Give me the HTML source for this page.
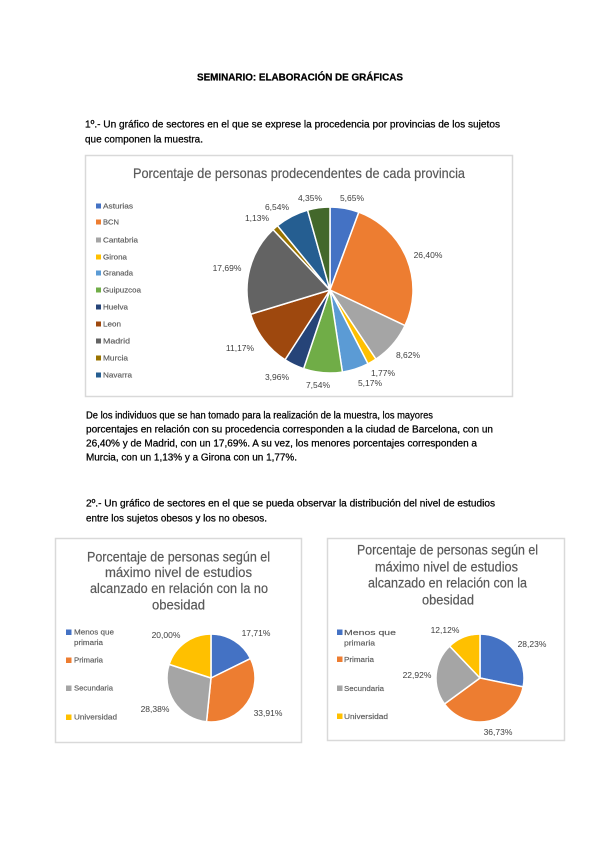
<!DOCTYPE html>
<html><head><meta charset="utf-8"><style>
html,body{margin:0;padding:0;background:#fff;}
svg{display:block;}
text{font-family:"Liberation Sans",sans-serif;}
.b{font-size:10px;fill:#000;stroke:#000;stroke-width:0.25px;}
.t{fill:#595959;stroke:#595959;stroke-width:0.2px;}
.lg{font-size:7.5px;fill:#595959;stroke:#595959;stroke-width:0.15px;}
.lb{font-size:8.5px;fill:#404040;text-anchor:middle;}
</style></head><body>
<svg width="600" height="848" viewBox="0 0 600 848" xmlns="http://www.w3.org/2000/svg">
<rect width="600" height="848" fill="#fff"/>
<!-- header text -->
<text x="197" y="80.5" class="b" font-weight="bold" textLength="206" lengthAdjust="spacingAndGlyphs">SEMINARIO: ELABORACIÓN DE GRÁFICAS</text>
<text x="85" y="127.5" class="b" textLength="415" lengthAdjust="spacingAndGlyphs">1º.- Un gráfico de sectores en el que se exprese la procedencia por provincias de los sujetos</text>
<text x="85" y="142.5" class="b" textLength="118" lengthAdjust="spacingAndGlyphs">que componen la muestra.</text>

<!-- chart 1 -->
<rect x="85.5" y="155.5" width="427" height="241" fill="#fff" stroke="#d9d9d9" stroke-width="1.5"/>
<text x="133" y="178" class="t" font-size="14" textLength="332" lengthAdjust="spacingAndGlyphs">Porcentaje de personas prodecendentes de cada provincia</text>
<g stroke="#fff" stroke-width="1.5" stroke-linejoin="round">
<path d="M330,290 L330,207 A83,83 0 0 1 358.85,212.17 Z" fill="#4472C4"/>
<path d="M330,290 L358.85,212.17 A83,83 0 0 1 404.99,325.57 Z" fill="#ED7D31"/>
<path d="M330,290 L404.99,325.57 A83,83 0 0 1 375.92,359.14 Z" fill="#A5A5A5"/>
<path d="M330,290 L375.92,359.14 A83,83 0 0 1 367.96,363.81 Z" fill="#FFC000"/>
<path d="M330,290 L367.96,363.81 A83,83 0 0 1 342.41,372.07 Z" fill="#5B9BD5"/>
<path d="M330,290 L342.41,372.07 A83,83 0 0 1 303.61,368.69 Z" fill="#70AD47"/>
<path d="M330,290 L303.61,368.69 A83,83 0 0 1 285.04,359.77 Z" fill="#264478"/>
<path d="M330,290 L285.04,359.77 A83,83 0 0 1 250.62,314.25 Z" fill="#9E480E"/>
<path d="M330,290 L250.62,314.25 A83,83 0 0 1 273.07,229.60 Z" fill="#636363"/>
<path d="M330,290 L273.07,229.60 A83,83 0 0 1 277.50,225.71 Z" fill="#997300"/>
<path d="M330,290 L277.50,225.71 A83,83 0 0 1 307.54,210.10 Z" fill="#255E91"/>
<path d="M330,290 L307.54,210.10 A83,83 0 0 1 330,207 Z" fill="#43682B"/>
</g>
<g class="lb">
<text x="352" y="201">5,65%</text>
<text x="310" y="201">4,35%</text>
<text x="277" y="210">6,54%</text>
<text x="257" y="221">1,13%</text>
<text x="227" y="271">17,69%</text>
<text x="428" y="258">26,40%</text>
<text x="408" y="358">8,62%</text>
<text x="383" y="376">1,77%</text>
<text x="370" y="386">5,17%</text>
<text x="318" y="388">7,54%</text>
<text x="277" y="380">3,96%</text>
<text x="240" y="351">11,17%</text>
</g>
<g>
<rect x="96" y="203.5" width="5" height="5" fill="#4472C4"/>
<rect x="96" y="219.5" width="5" height="5" fill="#ED7D31"/>
<rect x="96" y="237.5" width="5" height="5" fill="#A5A5A5"/>
<rect x="96" y="254.5" width="5" height="5" fill="#FFC000"/>
<rect x="96" y="270.5" width="5" height="5" fill="#5B9BD5"/>
<rect x="96" y="287.5" width="5" height="5" fill="#70AD47"/>
<rect x="96" y="304.5" width="5" height="5" fill="#264478"/>
<rect x="96" y="321.5" width="5" height="5" fill="#9E480E"/>
<rect x="96" y="338.5" width="5" height="5" fill="#636363"/>
<rect x="96" y="355.5" width="5" height="5" fill="#997300"/>
<rect x="96" y="372.5" width="5" height="5" fill="#255E91"/>
</g>
<g class="lg">
<text x="103" y="208.5" textLength="30" lengthAdjust="spacingAndGlyphs">Asturias</text>
<text x="103" y="224.5" textLength="16" lengthAdjust="spacingAndGlyphs">BCN</text>
<text x="103" y="242.5" textLength="35" lengthAdjust="spacingAndGlyphs">Cantabria</text>
<text x="103" y="259.5" textLength="24" lengthAdjust="spacingAndGlyphs">Girona</text>
<text x="103" y="275.5" textLength="30" lengthAdjust="spacingAndGlyphs">Granada</text>
<text x="103" y="292.5" textLength="38" lengthAdjust="spacingAndGlyphs">Guipuzcoa</text>
<text x="103" y="309.5" textLength="25" lengthAdjust="spacingAndGlyphs">Huelva</text>
<text x="103" y="326.5" textLength="18" lengthAdjust="spacingAndGlyphs">Leon</text>
<text x="103" y="343.5" textLength="27" lengthAdjust="spacingAndGlyphs">Madrid</text>
<text x="103" y="360.5" textLength="25" lengthAdjust="spacingAndGlyphs">Murcia</text>
<text x="103" y="377.5" textLength="29" lengthAdjust="spacingAndGlyphs">Navarra</text>
</g>

<!-- paragraph -->
<text x="86" y="418.5" class="b" textLength="347" lengthAdjust="spacingAndGlyphs">De los individuos que se han tomado para la realización de la muestra, los mayores</text>
<text x="86" y="432.5" class="b" textLength="407" lengthAdjust="spacingAndGlyphs">porcentajes en relación con su procedencia corresponden a la ciudad de Barcelona, con un</text>
<text x="86" y="446.5" class="b" textLength="391" lengthAdjust="spacingAndGlyphs">26,40% y de Madrid, con un 17,69%. A su vez, los menores porcentajes corresponden a</text>
<text x="86" y="460.5" class="b" textLength="211" lengthAdjust="spacingAndGlyphs">Murcia, con un 1,13% y a Girona con un 1,77%.</text>

<text x="86" y="506.5" class="b" textLength="409" lengthAdjust="spacingAndGlyphs">2º.- Un gráfico de sectores en el que se pueda observar la distribución del nivel de estudios</text>
<text x="86" y="521.5" class="b" textLength="181" lengthAdjust="spacingAndGlyphs">entre los sujetos obesos y los no obesos.</text>

<!-- chart 2 (left) -->
<rect x="55.5" y="538.5" width="246" height="204" fill="#fff" stroke="#d9d9d9" stroke-width="1.5"/>
<g class="t" font-size="13.5">
<text x="87" y="561.5" textLength="183" lengthAdjust="spacingAndGlyphs">Porcentaje de personas según el</text>
<text x="105" y="577" textLength="147" lengthAdjust="spacingAndGlyphs">máximo nivel de estudios</text>
<text x="90" y="593" textLength="178" lengthAdjust="spacingAndGlyphs">alcanzado en relación con la no</text>
<text x="152" y="609.5" textLength="53" lengthAdjust="spacingAndGlyphs">obesidad</text>
</g>
<g stroke="#fff" stroke-width="1.5" stroke-linejoin="round">
<path d="M211,678 L211,634 A44,44 0 0 1 250.47,658.55 Z" fill="#4472C4"/>
<path d="M211,678 L250.47,658.55 A44,44 0 0 1 206.53,721.77 Z" fill="#ED7D31"/>
<path d="M211,678 L206.53,721.77 A44,44 0 0 1 169.15,664.40 Z" fill="#A5A5A5"/>
<path d="M211,678 L169.15,664.40 A44,44 0 0 1 211,634 Z" fill="#FFC000"/>
</g>
<g class="lb">
<text x="256" y="636">17,71%</text>
<text x="166" y="638">20,00%</text>
<text x="268" y="716">33,91%</text>
<text x="155" y="712">28,38%</text>
</g>
<rect x="66" y="629.5" width="5.5" height="5.5" fill="#4472C4"/>
<rect x="66" y="657.5" width="5.5" height="5.5" fill="#ED7D31"/>
<rect x="66" y="685.5" width="5.5" height="5.5" fill="#A5A5A5"/>
<rect x="66" y="714.5" width="5.5" height="5.5" fill="#FFC000"/>
<g class="lg">
<text x="74" y="634.5" textLength="40" lengthAdjust="spacingAndGlyphs">Menos que</text>
<text x="74" y="645" textLength="29" lengthAdjust="spacingAndGlyphs">primaria</text>
<text x="74" y="662.5" textLength="29" lengthAdjust="spacingAndGlyphs">Primaria</text>
<text x="74" y="690.5" textLength="39" lengthAdjust="spacingAndGlyphs">Secundaria</text>
<text x="74" y="719.5" textLength="43" lengthAdjust="spacingAndGlyphs">Universidad</text>
</g>

<!-- chart 3 (right) -->
<rect x="327.5" y="538.5" width="237" height="202" fill="#fff" stroke="#d9d9d9" stroke-width="1.5"/>
<g class="t" font-size="13.5">
<text x="357" y="554.5" textLength="181" lengthAdjust="spacingAndGlyphs">Porcentaje de personas según el</text>
<text x="375" y="571.5" textLength="143" lengthAdjust="spacingAndGlyphs">máximo nivel de estudios</text>
<text x="368" y="587.5" textLength="159" lengthAdjust="spacingAndGlyphs">alcanzado en relación con la</text>
<text x="422" y="604.5" textLength="52" lengthAdjust="spacingAndGlyphs">obesidad</text>
</g>
<g stroke="#fff" stroke-width="1.5" stroke-linejoin="round">
<path d="M480,678 L480,634 A44,44 0 0 1 523.10,686.87 Z" fill="#4472C4"/>
<path d="M480,678 L523.10,686.87 A44,44 0 0 1 444.47,703.96 Z" fill="#ED7D31"/>
<path d="M480,678 L444.47,703.96 A44,44 0 0 1 449.64,646.15 Z" fill="#A5A5A5"/>
<path d="M480,678 L449.64,646.15 A44,44 0 0 1 480,634 Z" fill="#FFC000"/>
</g>
<g class="lb">
<text x="445" y="633">12,12%</text>
<text x="532" y="647">28,23%</text>
<text x="417" y="678">22,92%</text>
<text x="498" y="735">36,73%</text>
</g>
<rect x="337" y="629.5" width="5.5" height="5.5" fill="#4472C4"/>
<rect x="337" y="656.5" width="5.5" height="5.5" fill="#ED7D31"/>
<rect x="337" y="685.5" width="5.5" height="5.5" fill="#A5A5A5"/>
<rect x="337" y="713.5" width="5.5" height="5.5" fill="#FFC000"/>
<g class="lg">
<text x="344" y="635" textLength="52" lengthAdjust="spacingAndGlyphs">Menos que</text>
<text x="344" y="645.5" textLength="31" lengthAdjust="spacingAndGlyphs">primaria</text>
<text x="344" y="662" textLength="30" lengthAdjust="spacingAndGlyphs">Primaria</text>
<text x="344" y="691" textLength="40" lengthAdjust="spacingAndGlyphs">Secundaria</text>
<text x="344" y="719" textLength="44" lengthAdjust="spacingAndGlyphs">Universidad</text>
</g>
</svg>
</body></html>
